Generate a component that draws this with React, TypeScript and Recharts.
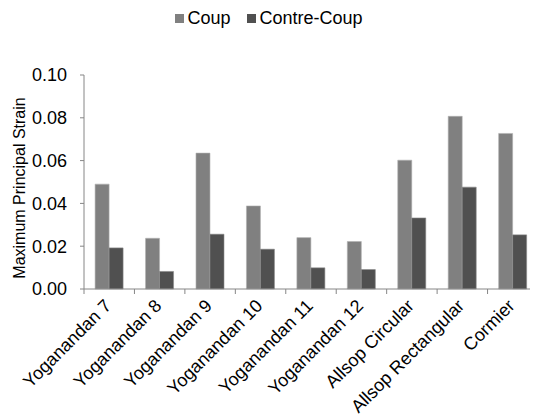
import React from 'react';
import { BarChart, Bar, XAxis, YAxis, Legend } from 'recharts';

const categories = [
  'Yoganandan 7',
  'Yoganandan 8',
  'Yoganandan 9',
  'Yoganandan 10',
  'Yoganandan 11',
  'Yoganandan 12',
  'Allsop Circular',
  'Allsop Rectangular',
  'Cormier',
];
const coup = [0.049, 0.0237, 0.0635, 0.0388, 0.024, 0.0222, 0.0602, 0.0807, 0.0727];
const contreCoup = [0.0192, 0.0082, 0.0256, 0.0186, 0.0099, 0.0091, 0.0332, 0.0476, 0.0253];
const yTicks = [0, 0.02, 0.04, 0.06, 0.08, 0.1];

const data = categories.map((name, i) => ({ name, coup: coup[i], contre: contreCoup[i] }));

const CHART_W = 538;
const CHART_H = 420;
const Y_W = 84;
const X_H = 131;
const TOP = 55;
const PLOT_W = CHART_W - Y_W;
const BAND = PLOT_W / categories.length;
const FONT = '"Liberation Sans", Arial, sans-serif';
const FS = 18;
const AXIS = '#868686';

const XTick = (props: any) => {
  const { x, y, payload, index } = props;
  const left = x - BAND / 2;
  const bx = x + 3;
  const by = y + 18;
  return (
    <g>
      <line x1={left} x2={left} y1={y} y2={y + 5} stroke={AXIS} />
      {index === categories.length - 1 && (
        <line x1={x + BAND / 2} x2={x + BAND / 2} y1={y} y2={y + 5} stroke={AXIS} />
      )}
      <text
        x={bx}
        y={by}
        textAnchor="end"
        transform={`rotate(-45 ${bx} ${by})`}
        fontSize={FS}
        fontFamily={FONT}
        fill="#000"
      >
        {payload.value}
      </text>
    </g>
  );
};

const LegendContent = () => (
  <div
    style={{
      display: 'flex',
      justifyContent: 'center',
      alignItems: 'center',
      fontFamily: FONT,
      fontSize: FS,
      color: '#000',
      lineHeight: '20px',
    }}
  >
    {[
      { label: 'Coup', color: '#808080' },
      { label: 'Contre-Coup', color: '#505050' },
    ].map((it, i) => (
      <div key={it.label} style={{ display: 'flex', alignItems: 'center', marginLeft: i ? 17 : 0 }}>
        <span style={{ width: 9, height: 9, background: it.color, display: 'inline-block', marginRight: 3 }} />
        <span>{it.label}</span>
      </div>
    ))}
  </div>
);

const YLabel = (props: any) => {
  const vb = props.viewBox || {};
  const cy = (vb.y ?? TOP) + (vb.height ?? 234) / 2 + 6;
  const bx = 25;
  return (
    <text
      x={bx}
      y={cy}
      textAnchor="middle"
      transform={`rotate(-90 ${bx} ${cy})`}
      fontSize={16}
      fontFamily={FONT}
      fill="#000"
    >
      Maximum Principal Strain
    </text>
  );
};

export default function App() {
  return (
    <div style={{ marginLeft: -8, marginTop: -8, width: CHART_W, height: CHART_H, background: '#fff' }}>
      <BarChart
        width={CHART_W}
        height={CHART_H}
        data={data}
        margin={{ top: TOP, right: 0, bottom: 0, left: 0 }}
        barCategoryGap="22%"
        barGap={0}
      >
        <Legend
          verticalAlign="top"
          content={<LegendContent />}
          wrapperStyle={{ top: 8, left: 0, width: CHART_W }}
        />
        <XAxis
          dataKey="name"
          height={X_H}
          interval={0}
          tickLine={false}
          tickSize={0}
          tickMargin={0}
          axisLine={{ stroke: AXIS }}
          tick={<XTick />}
        />
        <YAxis
          width={Y_W}
          domain={[0, 0.1]}
          ticks={yTicks}
          tickFormatter={(v: number) => v.toFixed(2)}
          tickSize={4}
          tickMargin={13}
          axisLine={{ stroke: AXIS }}
          tickLine={{ stroke: AXIS }}
          tick={{ fill: '#000', fontSize: FS, fontFamily: FONT }}
          label={<YLabel />}
        />
        <Bar dataKey="coup" name="Coup" fill="#808080" stroke="#b0b0b0" strokeWidth={0.6} isAnimationActive={false} />
        <Bar dataKey="contre" name="Contre-Coup" fill="#505050" stroke="#8a8a8a" strokeWidth={0.6} isAnimationActive={false} />
      </BarChart>
    </div>
  );
}
